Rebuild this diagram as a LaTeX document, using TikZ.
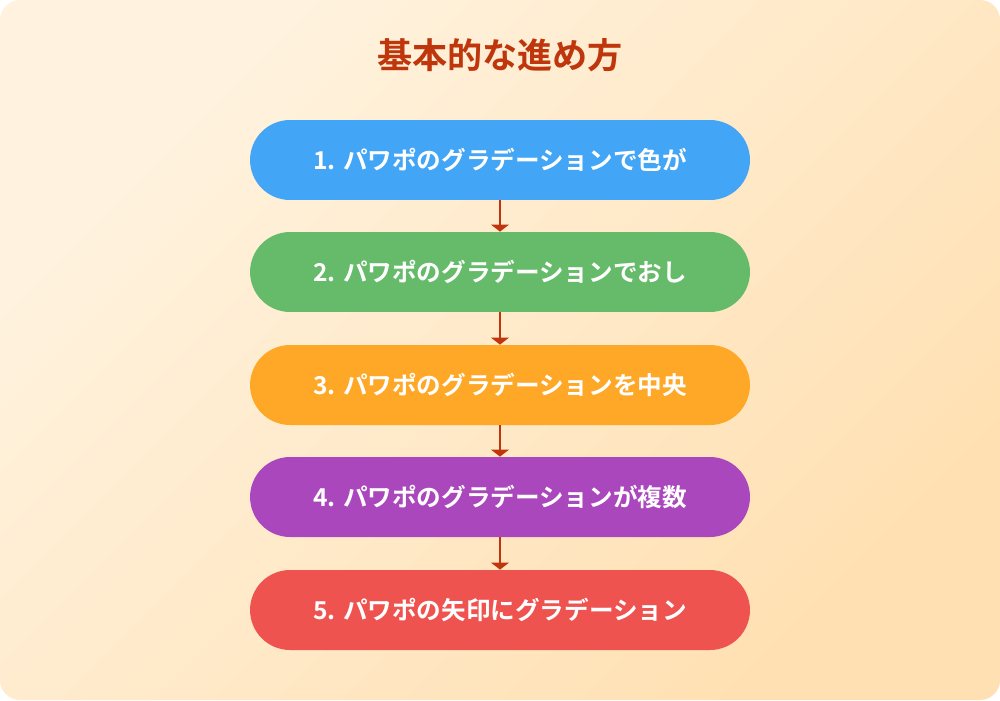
\documentclass[tikz,border=0pt]{standalone}
\usepackage{fontspec}
\newfontfamily\cjk{Noto Sans CJK JP}[BoldFont={* Bold}]
\usetikzlibrary{arrows.meta}
\definecolor{bgA}{HTML}{FFF3E0}
\definecolor{bgB}{HTML}{FFE0B2}
\definecolor{ttl}{HTML}{BF360C}
\definecolor{c1}{HTML}{42A5F5}
\definecolor{c2}{HTML}{66BB6A}
\definecolor{c3}{HTML}{FFA726}
\definecolor{c4}{HTML}{AB47BC}
\definecolor{c5}{HTML}{EF5350}
\tikzset{
  stepbox/.style={minimum width=10cm, minimum height=1.6cm, text=white, font=\cjk\bfseries\fontsize{14}{17}\selectfont, inner sep=0pt},
  conn/.style={draw=ttl, line width=1.6pt, -{Triangle[width=10pt,length=4pt]}}
}
\begin{document}
\begin{tikzpicture}[x=0.02cm,y=-0.02cm]
\useasboundingbox (0,0) rectangle (1000,700);
\shade[left color=bgA, right color=bgB, shading angle=45, rounded corners=0.4cm] (0,0) rectangle (1000,700);
\node[text=ttl, font=\cjk\bfseries\fontsize{20}{24}\selectfont] (t) at (500,55) {基本的な進め方};
\foreach \i/\y/\c/\t in {1/160/c1/{1. パワポのグラデーションで色が},2/272/c2/{2. パワポのグラデーションでおし},3/385/c3/{3. パワポのグラデーションを中央},4/497/c4/{4. パワポのグラデーションが複数},5/610/c5/{5. パワポの矢印にグラデーション}}
  \node[stepbox, fill=\c, rounded corners=0.8cm] (b\i) at (500,\y) {\t};
\foreach \a/\b in {1/2,2/3,3/4,4/5}
  \draw[conn] (b\a.south) -- (b\b.north);
\end{tikzpicture}
\end{document}
